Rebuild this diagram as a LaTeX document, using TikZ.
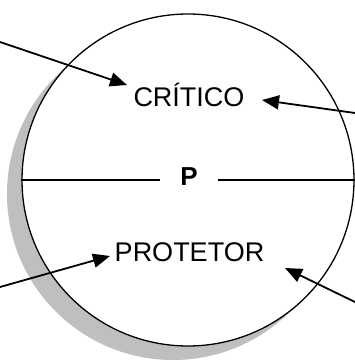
\documentclass[tikz,border=0pt]{standalone}
\usepackage{fontspec}
\setmainfont{Liberation Sans}
\usetikzlibrary{arrows.meta}
\tikzset{
  pointer/.style={line width=1.8pt, -{Triangle[length=17pt,width=14pt]}},
  labeltext/.style={font=\fontsize{27}{31}\selectfont, anchor=base, inner sep=0pt},
}
\begin{document}
\begin{tikzpicture}[x=10pt, y=10pt]
  \useasboundingbox (0,0) rectangle (35.5,36);

  % Shadow and circle
  \coordinate (ctr) at (18.8,18);
  \fill[black!25] ([shift={(-1.5,-1.4)}]ctr) circle (16.6);
  \node (circ) [circle, draw, fill=white, line width=1.3pt, minimum size=332pt, inner sep=0pt] at (ctr) {};

  % Labels
  \node (crit) [labeltext] at (18.9,25.4) {CRÍTICO};
  \node (prot) [labeltext] at (18.95,9.9) {PROTETOR};
  \node (p) [labeltext, font=\fontsize{26}{30}\selectfont\bfseries, minimum width=58pt] at (18.9,17.5) {P};

  % Dividing line
  \draw[line width=1.3pt] (circ.west) -- (circ.west -| p.west);
  \draw[line width=1.3pt] (circ.east -| p.east) -- (circ.east);

  % Arrows from outside
  \coordinate (inA) at (0,31.8);
  \coordinate (tipA) at (12.7,27.5);
  \coordinate (inB) at (35.5,24.7);
  \coordinate (tipB) at (26.2,26.0);
  \coordinate (inC) at (0,7.3);
  \coordinate (tipC) at (11.0,10.4);
  \coordinate (inD) at (35.5,5.8);
  \coordinate (tipD) at (28.5,9.2);
  \draw[pointer] (inA) -- (tipA);
  \draw[pointer] (inB) -- (tipB);
  \draw[pointer] (inC) -- (tipC);
  \draw[pointer] (inD) -- (tipD);
\end{tikzpicture}
\end{document}
